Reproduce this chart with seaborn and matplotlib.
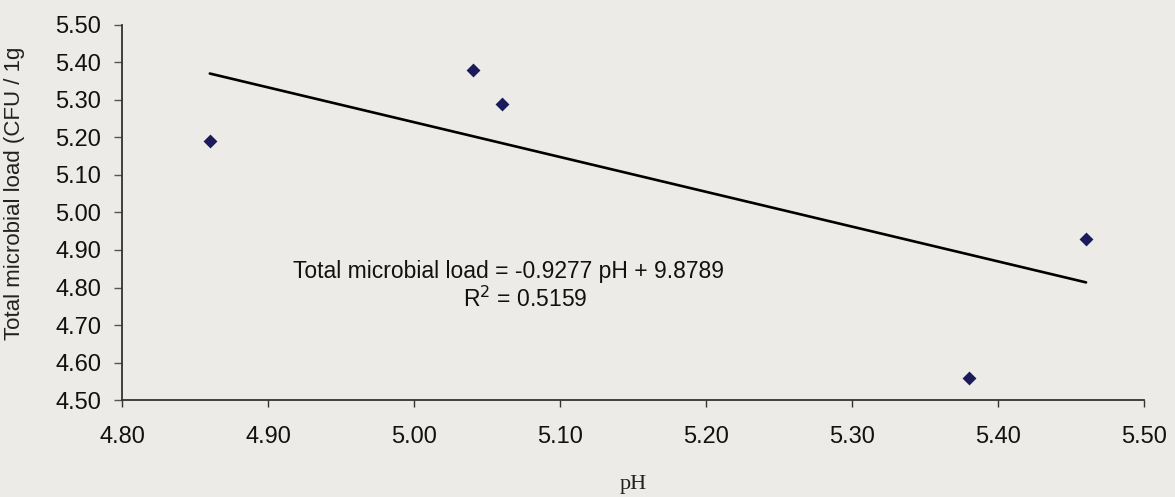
import numpy as np
import matplotlib
matplotlib.use('Agg')
import matplotlib.pyplot as plt
import seaborn as sns

# data
ph = [4.86, 5.04, 5.06, 5.38, 5.46]
microbial_load = [5.19, 5.38, 5.29, 4.56, 4.93]

# trend line as printed on the chart
slope = -0.9277
intercept = 9.8789
r_squared = 0.5159

x_ticks = [4.80, 4.90, 5.00, 5.10, 5.20, 5.30, 5.40, 5.50]
y_ticks = [4.50, 4.60, 4.70, 4.80, 4.90, 5.00, 5.10, 5.20, 5.30, 5.40, 5.50]

paper = '#ecebe7'

sns.set_style('white')
plt.rcParams['font.family'] = ['Liberation Sans', 'DejaVu Sans']

fig, ax = plt.subplots(figsize=(11.75, 4.97), dpi=100)
fig.patch.set_facecolor(paper)
ax.set_facecolor(paper)
plt.subplots_adjust(left=0.104, right=0.974, bottom=0.195, top=0.95)

# fitted line over the range of the points
line_x = np.array([min(ph), max(ph)])
line_y = slope * line_x + intercept
sns.lineplot(x=line_x, y=line_y, color='black', linewidth=1.9, ax=ax)

sns.scatterplot(x=ph, y=microbial_load, marker='D', s=50, color='#1b1b5c',
                edgecolor='#1b1b5c', linewidth=0, ax=ax, zorder=3)

ax.text(0.167, 0.344, 'Total microbial load = %.4f pH + %.4f' % (slope, intercept),
        transform=ax.transAxes, ha='left', va='center', fontsize=16.5, color='#111111')
ax.text(0.333, 0.269, 'R$^2$ = %.4f' % r_squared,
        transform=ax.transAxes, ha='left', va='center', fontsize=16.5, color='#111111')

ax.set_xlim(4.80, 5.50)
ax.set_ylim(4.50, 5.50)
ax.set_xticks(x_ticks)
ax.set_yticks(y_ticks)
ax.set_xticklabels(['%.2f' % t for t in x_ticks], fontsize=17, color='#111111')
ax.set_yticklabels(['%.2f' % t for t in y_ticks], fontsize=17, color='#111111')
ax.tick_params(axis='x', direction='out', length=5, width=1, pad=14, color='#333333', bottom=True)
ax.tick_params(axis='y', direction='out', length=6, width=1, pad=9, color='#555555', left=True)

sns.despine(ax=ax)
for side in ['left', 'bottom']:
    ax.spines[side].set_color('#333333')
    ax.spines[side].set_linewidth(1.3)

ax.set_ylabel('Total microbial load (CFU / 1g', fontsize=16, color='#222222')
ax.yaxis.set_label_coords(-0.095, 0.55)
ax.set_xlabel('pH', fontsize=16, family='Liberation Serif', color='#222222')
ax.xaxis.set_label_coords(0.5, -0.2)

plt.savefig('out.png', dpi=100, facecolor=paper)
